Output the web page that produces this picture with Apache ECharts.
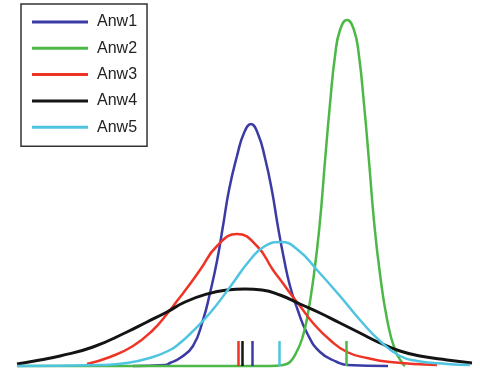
<!DOCTYPE html>
<html>
<head>
<meta charset="utf-8">
<script src="https://cdn.jsdelivr.net/npm/echarts@6/dist/echarts.min.js"></script>
<style>
html,body{margin:0;padding:0;background:#fff;}
#c{width:480px;height:372px;}
</style>
</head>
<body>
<div id="c"></div>
<script>
// Series names
const names = ['Anw1', 'Anw2', 'Anw3', 'Anw4', 'Anw5'];
// Curve points: [x, density height]
const anw1 = [[133,0],[165,1],[170,3],[180,8],[193,20],[203,46],[210,73],[217,105],[223,140],[229,176],[237,210],[244,233],[251,242],[258,232],[265,208],[272,175],[278,139],[284,107],[290,80],[297,58],[307,33],[320,14],[337,4],[347,1],[388,0]];
const anw2 = [[17,0],[270,0],[283,1],[290,4],[297,15],[302,27],[307,47],[314,92],[320,145],[325,205],[330,262],[335,310],[340,336],[347,346],[354,336],[359,310],[364,262],[369,205],[374,145],[380,92],[387,47],[395,16],[403,2],[405,0]];
const anw3 = [[87,2],[110,9],[133,20],[153,36],[167,52],[177,65],[187,78],[200,96],[217,120],[237,132],[257,120],[273,96],[282,84],[290,73],[300,60],[313,43],[330,26],[347,14],[367,8],[390,4],[437,1]];
const anw4 = [[17,2],[40,6],[60,10],[93,19],[127,34],[147,44],[167,54],[185,64],[207,72],[227,76],[245,77],[262,76],[280,71],[300,62],[320,53],[340,43],[360,33],[380,23],[400,15],[420,10],[447,6],[472,3]];
const anw5 = [[17,0],[100,1],[127,3],[153,9],[170,16],[180,23],[190,32],[210,53],[230,79],[250,106],[265,120],[281,124],[298,116],[317,96],[340,70],[360,46],[380,25],[400,10],[417,5],[447,2],[470,1]];
// Mean markers (x position) and marker height
const means = [252, 346, 238, 242, 279];
const markH = 25;

const colors = ['#3b3ba6', '#4cb847', '#ee3424', '#141414', '#4fc4e0'];
const widths = [2.5, 2.5, 2.5, 3, 2.5];
const curves = [anw1, anw2, anw3, anw4, anw5];

const chart = echarts.init(document.getElementById('c'), null, {renderer: 'canvas'});
const series = names.map((n, i) => ({
  name: n,
  type: 'line',
  data: curves[i],
  showSymbol: false,
  smooth: 0.5,
  clip: false,
  lineStyle: {color: colors[i], width: widths[i]},
  itemStyle: {color: colors[i]},
  z: 2 + i,
  markLine: {
    silent: true,
    symbol: 'none',
    label: {show: false},
    animation: false,
    lineStyle: {color: colors[i], width: 2.5, type: 'solid'},
    data: [[{coord: [means[i], 0]}, {coord: [means[i], markH]}]]
  }
}));

chart.setOption({
  animation: false,
  backgroundColor: '#fff',
  grid: {left: 17, right: 8, top: 0, bottom: 6},
  xAxis: {type: 'value', min: 17, max: 472, show: false},
  yAxis: {type: 'value', min: 0, max: 366, show: false},
  legend: {
    data: names,
    orient: 'vertical',
    left: 21,
    top: 4,
    padding: [8, 10, 9, 11],
    itemWidth: 56,
    itemHeight: 3,
    icon: 'rect',
    itemGap: 6.3,
    borderColor: '#333',
    borderWidth: 1.5,
    backgroundColor: '#fff',
    textStyle: {fontFamily: 'Liberation Sans', fontSize: 16, color: '#222', lineHeight: 20, padding: [0, 0, 0, 4]}
  },
  series: series
});
</script>
</body>
</html>
